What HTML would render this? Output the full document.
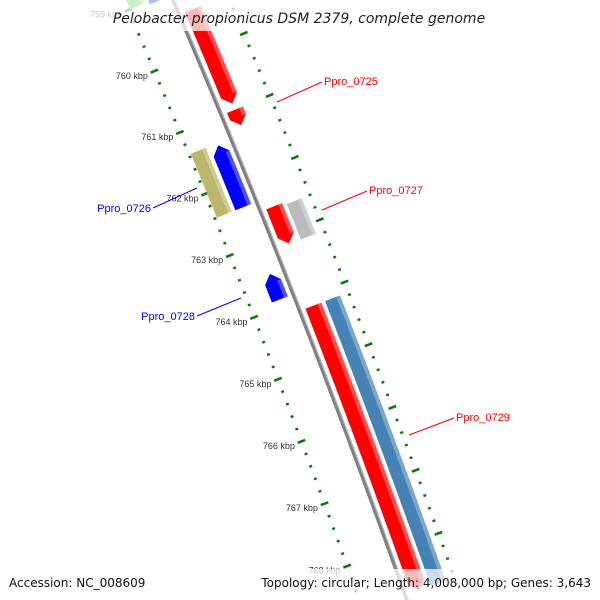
<!DOCTYPE html>
<html><head><meta charset="utf-8">
<style>
html,body{margin:0;padding:0;background:#fff;width:600px;height:600px;overflow:hidden;}
svg{display:block;font-family:"DejaVu Sans","Liberation Sans",sans-serif;}
.lbl{font-family:"Liberation Sans",sans-serif;}
</style></head>
<body>
<svg id="chart" width="600" height="600" viewBox="0 0 600 600" xmlns="http://www.w3.org/2000/svg">
<g id="rulers"></g>
<g id="backbone"></g>
<g id="genes"></g>
<g id="labels" class="lbl">
  <line x1="277" y1="102" x2="322" y2="82" stroke="#f00" stroke-width="1"/>
  <text x="324" y="85" font-size="11" fill="#f00">Ppro_0725</text>
  <line x1="322" y1="210" x2="367" y2="191" stroke="#f00" stroke-width="1"/>
  <text x="369" y="194" font-size="11" fill="#f00">Ppro_0727</text>
  <line x1="153" y1="208" x2="197" y2="188" stroke="#00f" stroke-width="1"/>
  <text x="151" y="212" font-size="11" fill="#00f" text-anchor="end">Ppro_0726</text>
  <line x1="197" y1="316" x2="241" y2="298" stroke="#00f" stroke-width="1"/>
  <text x="195" y="320" font-size="11" fill="#00f" text-anchor="end">Ppro_0728</text>
  <line x1="409" y1="435" x2="454" y2="418" stroke="#f00" stroke-width="1"/>
  <text x="456" y="421" font-size="11" fill="#f00">Ppro_0729</text>
</g>
<rect x="0" y="0" width="600" height="31" fill="#fff" opacity="0.72"/>
<text x="299" y="23" font-size="14" font-style="italic" text-anchor="middle" fill="#222">Pelobacter propionicus DSM 2379, complete genome</text>
<rect x="0" y="569" width="600" height="31" fill="#fff" opacity="0.72"/>
<text x="9" y="587" font-size="12" fill="#111">Accession: NC_008609</text>
<text x="591" y="587" font-size="12" fill="#111" text-anchor="end">Topology: circular; Length: 4,008,000 bp; Genes: 3,643</text>
</svg>
<script>
// Gene data (kbp)
const geneNames  = ['g-green','g-blue-top','Ppro_0725','Ppro_0725b','Ppro_0726a','Ppro_0726','Ppro_0727','Ppro_0727b','Ppro_0728','Ppro_0729','Ppro_0729b'];
const geneStart  = [758.3, 758.3, 759.37, 761.0, 761.36, 761.4, 762.56, 762.6, 763.48, 764.16, 764.16];
const geneEnd    = [759.0, 759.05, 760.9, 761.25, 762.4, 762.4, 763.16, 763.17, 763.89, 768.7, 768.7];
const geneStrand = [-1, -1, 1, 1, -1, -1, 1, 1, -1, 1, 1];
const geneLane   = [2, 1, 1, 1, 2, 1, 1, 2, 1, 1, 2];
const geneArrow  = [0, 1, 1, 1, 0, 1, 1, 0, 1, 1, 0];
const geneColor  = ['#33cc33','#0000ff','#ff0000','#ff0000','#bdb76b','#0000ff','#ff0000','#bbbbbb','#0000ff','#ff0000','#4682b4'];
// Ruler data
const rulerStart = 758.4;
const rulerEnd = 769.0;
const majorTicks = [759, 760, 761, 762, 763, 764, 765, 766, 767, 768];
const tickLabels = ['759 kbp','760 kbp','761 kbp','762 kbp','763 kbp','764 kbp','765 kbp','766 kbp','767 kbp','768 kbp'];

const NS = 'http://www.w3.org/2000/svg';
const R = 10000, kM = 764.0, pxPerKbp = 66.7;
const M = [296, 301];
const n0 = [0.932, -0.363];
const C = [M[0] - R*n0[0], M[1] - R*n0[1]];
function pt(k, off) {
  const phi = (k - kM) * pxPerKbp / R;
  const c = Math.cos(phi), s = Math.sin(phi);
  const nx = n0[0]*c - n0[1]*s, ny = n0[0]*s + n0[1]*c;
  return [C[0] + (R+off)*nx, C[1] + (R+off)*ny];
}
function mk(tag, attrs, parent) {
  const el = document.createElementNS(NS, tag);
  for (const a in attrs) el.setAttribute(a, attrs[a]);
  parent.appendChild(el);
  return el;
}
function arcPts(k1, k2, off) {
  const out = []; const N = 30;
  for (let i = 0; i <= N; i++) out.push(pt(k1 + (k2-k1)*i/N, off));
  return out;
}
const fmt = p => p.map(q => q[0].toFixed(2)+','+q[1].toFixed(2)).join(' ');

const rg = document.getElementById('rulers');
[-45, 52].forEach(function(roff) {
  for (let k = Math.ceil(rulerStart*5)/5; k <= rulerEnd; k += 0.2) {
    const kk = Math.round(k*5)/5;
    const major = Math.abs(kk - Math.round(kk)) < 1e-6;
    const h = major ? 4 : 1.5;
    const a = pt(kk, roff - h), b = pt(kk, roff + h);
    const ln = mk('line', {x1:a[0], y1:a[1], x2:b[0], y2:b[1], stroke:'#0a7a0a', 'stroke-width': major ? 2.6 : 2.4}, rg);
    
    
  }
});
majorTicks.forEach(function(k, i) {
  const p = pt(k, -52);
  const t = mk('text', {x:p[0].toFixed(1), y:(p[1]+5).toFixed(1), 'font-size':'9', fill:'#333', 'text-anchor':'end', 'class':'lbl'}, rg);
  
  
  t.textContent = tickLabels[i];
});

const bg = document.getElementById('backbone');
const bb = mk('polyline', {points: fmt(arcPts(758, 770, 0)), fill:'none', stroke:'#808080', 'stroke-width':'4'}, bg);


const bb2 = mk('polyline', {points: fmt(arcPts(758, 770, 1.4)), fill:'none', stroke:'#b8b8b8', 'stroke-width':'1'}, bg);



const gg = document.getElementById('genes');
const headK = 0.13;
geneStart.forEach(function(s, i) {
  const e = geneEnd[i], st = geneStrand[i], lane = geneLane[i];
  const inner = lane === 1 ? 6 : 27, outer = lane === 1 ? 23 : 43;
  const o1 = st * inner, o2 = st * outer, oc = (o1 + o2) / 2;
  let pts;
  if (geneArrow[i] && st === 1) {
    pts = arcPts(s, e - headK, o1).concat([pt(e, oc)]).concat(arcPts(s, e - headK, o2).reverse());
  } else if (geneArrow[i] && st === -1) {
    pts = [pt(s, oc)].concat(arcPts(s + headK, e, o1)).concat(arcPts(s + headK, e, o2).reverse());
  } else {
    pts = arcPts(s, e, o1).concat(arcPts(s, e, o2).reverse());
  }
  const g = mk('g', {}, gg);
  
  
  mk('polygon', {points: fmt(pts), fill: geneColor[i]}, g);
  const so1 = st === 1 ? outer - 4 : -inner - 4, so2 = st === 1 ? outer : -inner;
  const sEnd = geneArrow[i] && st === 1 ? e - headK : e;
  const sStart = geneArrow[i] && st === -1 ? s + headK : s;
  const sp = arcPts(sStart, sEnd, so1).concat(arcPts(sStart, sEnd, so2).reverse());
  mk('polygon', {points: fmt(sp), fill: '#fff', opacity: '0.3'}, g);
});
</script>
</body></html>
